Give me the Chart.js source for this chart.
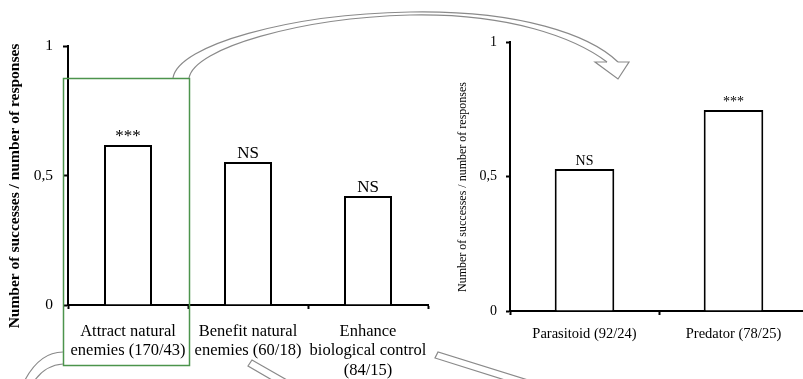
<!DOCTYPE html>
<html>
<head>
<meta charset="utf-8">
<script src="https://cdn.jsdelivr.net/npm/chart.js@4/dist/chart.umd.min.js"></script>
<style>
  html, body { margin: 0; padding: 0; background: #fff; overflow: hidden; width: 803px; height: 379px; }
  canvas { position: absolute; top: 0; }
  #c1 { left: 0; }
  #c2 { left: 430px; }
  #deco { left: 0; pointer-events: none; z-index: 5; }
</style>
</head>
<body>
<canvas id="c1" width="430" height="379"></canvas>
<canvas id="c2" width="380" height="379"></canvas>
<canvas id="deco" width="803" height="379"></canvas>
<script>
// ---- data (left panel) ----
const leftCategories = [
  ["Attract natural", "enemies (170/43)"],
  ["Benefit natural", "enemies (60/18)"],
  ["Enhance", "biological control", "(84/15)"]
];
const leftValues = [0.618, 0.552, 0.421];
const leftSignif = ["***", "NS", "NS"];

// ---- data (right panel) ----
const rightCategories = ["Parasitoid (92/24)", "Predator (78/25)"];
const rightValues = [0.528, 0.747];
const rightSignif = ["NS", "***"];

const yTickValues = [0, 0.5, 1];
const yTitle = "Number of successes / number of responses";

const SERIF = "'Liberation Serif', 'Times New Roman', serif";

// plugin: significance labels above bars + y title
const annot = {
  id: 'annot',
  afterDatasetsDraw(chart, args, opts) {
    const ctx = chart.ctx;
    const meta = chart.getDatasetMeta(0);
    ctx.save();
    ctx.fillStyle = '#000';
    ctx.textAlign = 'center';
    ctx.textBaseline = 'alphabetic';
    ctx.font = opts.size + 'px ' + SERIF;
    meta.data.forEach((bar, i) => {
      ctx.fillText(opts.labels[i], bar.x, bar.y - 4);
    });
    // y-axis title
    ctx.translate(opts.titleX, opts.titleY);
    ctx.rotate(-Math.PI / 2);
    ctx.textBaseline = 'middle';
    ctx.font = opts.titleFont + ' ' + SERIF;
    ctx.fillText(yTitle, 0, 0);
    ctx.restore();
  }
};

function makeChart(id, cats, vals, sig, cfg) {
  return new Chart(document.getElementById(id), {
    type: 'bar',
    data: {
      labels: cats,
      datasets: [{
        data: vals,
        backgroundColor: '#ffffff',
        borderColor: '#000000',
        borderWidth: 2,
        categoryPercentage: 1,
        barPercentage: 0.4
      }]
    },
    options: {
      responsive: false,
      animation: false,
      events: [],
      layout: { padding: { top: cfg.top, right: cfg.right, left: 0, bottom: 0 } },
      plugins: {
        legend: { display: false },
        tooltip: { enabled: false },
        annot: { labels: sig, size: cfg.annotSize, titleX: cfg.titleX, titleY: cfg.titleY, titleFont: cfg.titleFont }
      },
      scales: {
        x: {
          afterFit: s => { s.height = cfg.xHeight; s.paddingLeft = 0; s.paddingRight = 0; },
          grid: { display: true, drawOnChartArea: false, drawTicks: true, tickLength: 4, tickWidth: 2, tickColor: '#000', offset: true },
          border: { display: true, color: '#000', width: 2 },
          ticks: { color: '#000', font: { family: SERIF, size: cfg.xFont, lineHeight: 1.17 }, padding: cfg.xPad, maxRotation: 0, autoSkip: false }
        },
        y: {
          min: 0, max: 1,
          afterFit: s => { s.width = cfg.yWidth; s.paddingTop = 0; s.paddingBottom = 0; },
          afterBuildTicks: s => { s.ticks = yTickValues.map(v => ({ value: v })); },
          grid: { display: true, drawOnChartArea: false, drawTicks: true, tickLength: cfg.yTick, tickWidth: 2, tickColor: '#000' },
          border: { display: true, color: '#000', width: 2 },
          ticks: {
            color: '#000',
            font: { family: SERIF, size: cfg.yFont },
            padding: cfg.yPad,
            callback: v => String(v).replace('.', ',')
          }
        }
      }
    },
    plugins: [annot]
  });
}

makeChart('c1', leftCategories, leftValues, leftSignif, {
  top: 46, right: 2, xHeight: 74, yWidth: 68, xFont: 16.5, xPad: 13, yFont: 15.5, yPad: 10, yTick: 5,
  annotSize: 17, titleX: 15, titleY: 186, titleFont: 'bold 15.5px'
});
makeChart('c2', rightCategories, rightValues, rightSignif, {
  top: 42, right: 2, xHeight: 68, yWidth: 80, xFont: 14.5, xPad: 11, yFont: 14, yPad: 9, yTick: 4,
  annotSize: 14, titleX: 33, titleY: 187, titleFont: '12px'
});

// ---- decorative overlay (green frame and grey arrows) ----
(function () {
  const ctx = document.getElementById('deco').getContext('2d');
  ctx.strokeStyle = '#4c944c';
  ctx.lineWidth = 1.5;
  ctx.strokeRect(63.5, 78.5, 126, 287);

  ctx.strokeStyle = '#8a8a8a';
  ctx.lineWidth = 1.2;
  // top curved arrow shaft
  ctx.beginPath();
  ctx.moveTo(173, 78);
  ctx.bezierCurveTo(178, 45, 290, 14, 410, 12);
  ctx.bezierCurveTo(520, 10, 590, 35, 618, 62);
  ctx.stroke();
  ctx.beginPath();
  ctx.moveTo(189, 78);
  ctx.bezierCurveTo(194, 48, 300, 18, 410, 15);
  ctx.bezierCurveTo(510, 13, 575, 38, 607, 62);
  ctx.stroke();
  // arrow head
  ctx.beginPath();
  ctx.moveTo(607, 62);
  ctx.lineTo(595, 62);
  ctx.lineTo(618, 79);
  ctx.lineTo(629, 62);
  ctx.lineTo(618, 62);
  ctx.stroke();
  // bottom-left curves
  ctx.beginPath();
  ctx.moveTo(63, 352);
  ctx.quadraticCurveTo(40, 352, 25, 380);
  ctx.stroke();
  ctx.beginPath();
  ctx.moveTo(63, 364);
  ctx.quadraticCurveTo(46, 365, 35, 380);
  ctx.stroke();
  // hollow shafts at the bottom
  ctx.beginPath();
  ctx.moveTo(272, 380);
  ctx.lineTo(248, 366);
  ctx.lineTo(252, 360);
  ctx.lineTo(287, 380);
  ctx.stroke();
  ctx.beginPath();
  ctx.moveTo(505, 380);
  ctx.lineTo(435, 358);
  ctx.lineTo(438, 352);
  ctx.lineTo(528, 380);
  ctx.stroke();
})();
</script>
</body>
</html>
